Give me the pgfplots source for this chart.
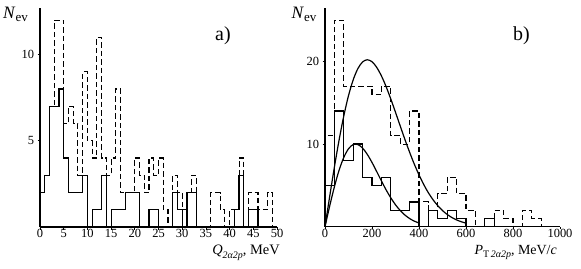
\documentclass[border=0pt]{standalone}
\usepackage{fontspec}
\setmainfont{Liberation Serif}
\usepackage{pgfplots}
\pgfplotsset{compat=1.18}
\pgfplotsset{
  hist/.style={
    scale only axis,
    axis x line*=bottom, axis y line*=left,
    axis line style={line width=1.1bp},
    tick align=outside, major tick length=2.5bp,
    tick style={black, line width=0.8bp},
    ticklabel style={font=\fontsize{12.5}{12.5}\selectfont},
    /pgf/number format/assume math mode=true,
    /pgf/number format/1000 sep={},
    xticklabel style={yshift=1.8bp, inner ysep=1.5bp},
    clip=false,
  },
  solidh/.style={const plot mark left, black, line width=1.2bp},
  dashedh/.style={const plot mark left, black, line width=1.1bp, dash pattern=on 5.5bp off 3bp},
  fitc/.style={smooth, black, line width=1.2bp},
}
\begin{document}
\begin{tikzpicture}[x=1bp,y=1bp]
\useasboundingbox (0,0) rectangle (581,268);
% ---------------- panel a
\begin{axis}[hist, at={(40bp,41bp)}, anchor=south west,
  width=237bp, height=219bp,
  xmin=0, xmax=50, ymin=0, ymax=12.7,
  xtick={0,5,...,50}, ytick={5,10}]
\addplot[dashedh] coordinates {(0,0)(0,2)(1,3)(2,7)(3,12)(4,12)(5,6)(6,7)(7,6)(8,3)(9,9)(10,5)(11,4)(12,11)(13,4)(14,3)(15,4)(16,8)(17,2)(18,2)(19,2)(20,4)(21,3)(22,2)(23,4)(24,3)(25,4)(26,1)(27,0)(28,3)(29,2)(30,1)(31,2)(32,3)(33,0)(34,0)(35,0)(36,2)(37,2)(38,1)(39,0)(40,1)(41,1)(42,4)(43,0)(44,2)(45,2)(46,1)(47,1)(48,2)(49,0)};
\addplot[solidh] coordinates {(0,0)(0,2)(1,3)(2,7)(3,7)(4,8)(5,4)(6,2)(7,2)(8,2)(9,3)(10,0)(11,1)(12,1)(13,3)(14,0)(15,1)(16,1)(17,1)(18,2)(19,2)(20,2)(21,0)(22,0)(23,1)(24,1)(25,0)(26,0)(27,0)(28,2)(29,1)(30,0)(31,2)(32,2)(33,0)(34,0)(35,0)(36,0)(37,0)(38,0)(39,0)(40,0)(41,1)(42,3)(43,0)(44,1)(45,1)(46,0)};
\end{axis}
% ---------------- panel b
\begin{axis}[hist, at={(325bp,41.3bp)}, anchor=south west,
  width=235bp, height=219bp,
  xmin=0, xmax=1000, ymin=0, ymax=26.5,
  xtick={0,200,...,1000}, ytick={10,20}]
\addplot[dashedh] coordinates {(0,0)(0,11)(40,25)(80,17)(120,17)(160,17)(200,16)(240,17)(280,11)(320,10)(360,14)(400,3)(440,2)(480,4)(520,6)(560,4)(600,2)(640,0)(680,1)(720,2)(760,1)(800,0)(840,2)(880,1)(920,0)};
\addplot[solidh] coordinates {(0,0)(0,5)(40,14)(80,8)(120,10)(160,6)(200,5)(240,6)(280,2)(320,2)(360,3)(400,0)(440,2)(480,1)(520,2)(560,1)(600,0)(640,0)(680,1)(720,0)};
\addplot[fitc] coordinates {(0,0)(20,3.68)(40,7.22)(60,10.5)(80,13.41)(100,15.86)(120,17.78)(140,19.14)(160,19.94)(180,20.2)(200,19.96)(220,19.28)(240,18.25)(260,16.95)(280,15.45)(300,13.84)(320,12.19)(340,10.56)(360,9.01)(380,7.57)(400,6.27)(420,5.11)(440,4.1)(460,3.25)(480,2.54)(500,1.95)(520,1.48)(540,1.11)(560,0.82)(580,0.6)(600,0.43)};
\addplot[fitc] coordinates {(0,0)(20,2.51)(40,4.84)(60,6.84)(80,8.39)(100,9.43)(120,9.94)(140,9.94)(160,9.51)(180,8.75)(200,7.77)(220,6.67)(240,5.54)(260,4.46)(280,3.49)(300,2.65)(320,1.96)(340,1.41)(360,0.99)(380,0.67)(400,0.45)};
\end{axis}
% ---------------- labels
\node[anchor=base west, inner sep=0pt] at (3,249.7) {\fontsize{17.5}{17.5}\selectfont\textit{N}\raisebox{-3.4bp}{\fontsize{13}{13}\selectfont ev}};
\node[anchor=base west, inner sep=0pt] at (291.5,249.7) {\fontsize{17.5}{17.5}\selectfont\textit{N}\raisebox{-3.4bp}{\fontsize{13}{13}\selectfont ev}};
\node[anchor=base west, inner sep=0pt] at (215,228) {\fontsize{20}{20}\selectfont a)};
\node[anchor=base west, inner sep=0pt] at (513,228) {\fontsize{20}{20}\selectfont b)};
\node[anchor=base east, inner sep=0pt] at (280,13.5) {\fontsize{14.5}{14.5}\selectfont\textit{Q}\raisebox{-3.5bp}{\fontsize{10}{10}\selectfont\textit{2α2p}}, MeV};
\node[anchor=base east, inner sep=0pt] at (557,13.5) {\fontsize{14}{14}\selectfont\textit{P}\raisebox{-3bp}{\fontsize{10}{10}\selectfont T\,\textit{2α2p}}, MeV/\textit{c}};
\end{tikzpicture}
\end{document}
